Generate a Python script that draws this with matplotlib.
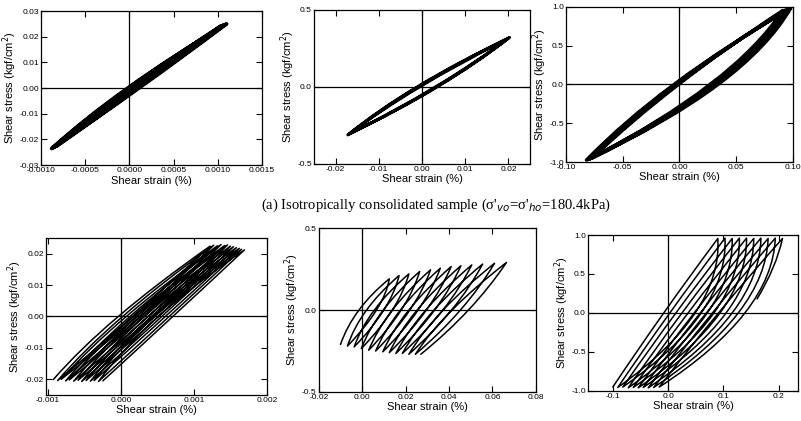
import matplotlib
matplotlib.use("Agg")
import matplotlib.pyplot as plt
from matplotlib.path import Path
from matplotlib.patches import PathPatch
from matplotlib.ticker import FormatStrFormatter

plt.rcParams['font.family'] = ['Liberation Sans', 'DejaVu Sans']
plt.rcParams['axes.unicode_minus'] = False

# ---- (a) isotropically consolidated, small amplitude (top left)
tl_low_x = [-0.00088, -0.00086, -0.00084, -0.00087, -0.00082]
tl_low_y = [-0.0236, -0.0232, -0.0228, -0.0234, -0.0226]
tl_up_x = [0.00110, 0.00106, 0.00103, 0.00108]
tl_up_y = [0.0250, 0.0245, 0.0241, 0.0247]
tl_load_x0 = [-0.00002, 0.0, 0.00002, -0.00001]
tl_unload_x0 = [0.00011, 0.00009, 0.00008, 0.00010]

# ---- top middle
tm_low_x = [-0.0172, -0.0169, -0.0166, -0.0170, -0.0164]
tm_low_y = [-0.312, -0.306, -0.300, -0.309, -0.298]
tm_up_x = [0.0203, 0.0200, 0.0196, 0.0199]
tm_up_y = [0.322, 0.317, 0.310, 0.315]
tm_load_x0 = [-0.0012, -0.0009, -0.0006, -0.0010]
tm_unload_x0 = [0.0035, 0.0033, 0.0031, 0.0034]

# ---- top right
tr_low_x = [-0.082, -0.080, -0.078, -0.081, -0.077, -0.079]
tr_low_y = [-0.975, -0.965, -0.955, -0.970, -0.950, -0.960]
tr_up_x = [0.098, 0.096, 0.093, 0.097, 0.091]
tr_up_y = [0.985, 0.975, 0.960, 0.980, 0.955]
tr_load_x0 = [-0.005, -0.003, -0.002, -0.004, -0.001]
tr_unload_x0 = [0.034, 0.032, 0.029, 0.031, 0.027]

# ---- bottom left (drifting loops)
bl_low_x = [-0.00093, -0.00087, -0.00082, -0.00076, -0.00071, -0.00065, -0.00059,
            -0.00054, -0.00048, -0.00042, -0.00037, -0.00031, -0.00025]
bl_low_y = [-0.0201, -0.0204, -0.0200, -0.0205, -0.0202, -0.0206, -0.0203,
            -0.0207, -0.0204, -0.0206, -0.0204, -0.0207, -0.0205]
bl_up_x = [0.00122, 0.00127, 0.00132, 0.00137, 0.00142, 0.00146,
           0.00150, 0.00154, 0.00158, 0.00162, 0.00165, 0.00169]
bl_up_y = [0.0224, 0.0227, 0.0225, 0.0229, 0.0226, 0.0228,
           0.0224, 0.0222, 0.0219, 0.0217, 0.0214, 0.0212]
bl_load_x0 = [-0.00004, 0.00002, 0.00007, 0.00012, 0.00017, 0.00022,
              0.00027, 0.00032, 0.00037, 0.00042, 0.00046, 0.00051]
bl_unload_x0 = [0.00016, 0.00021, 0.00026, 0.00031, 0.00037, 0.00042,
                0.00046, 0.00051, 0.00056, 0.00061, 0.00066, 0.00071]

# ---- bottom middle
bm_low_x = [-0.0100, -0.0068, -0.0037, -0.0004, 0.0030, 0.0062, 0.0095,
            0.0125, 0.0155, 0.0185, 0.0215, 0.0245, 0.0270]
bm_low_y = [-0.21, -0.22, -0.225, -0.235, -0.245, -0.25, -0.255,
            -0.26, -0.265, -0.265, -0.27, -0.27, -0.27]
bm_up_x = [0.0125, 0.0170, 0.0215, 0.0265, 0.0315, 0.0360,
           0.0410, 0.0455, 0.0505, 0.0555, 0.0610, 0.0665]
bm_up_y = [0.19, 0.21, 0.22, 0.235, 0.245, 0.255,
           0.265, 0.27, 0.275, 0.28, 0.285, 0.29]
bm_load_x0 = [-0.0015, 0.0020, 0.0056, 0.0097, 0.0139, 0.0176,
              0.0215, 0.0253, 0.0293, 0.0331, 0.0373, 0.0414]
bm_unload_x0 = [0.0066, 0.0100, 0.0139, 0.0180, 0.0220, 0.0258,
                0.0296, 0.0334, 0.0372, 0.0412, 0.0453, 0.0490]

# ---- bottom right
br_low_x = [-0.100, -0.091, -0.082, -0.072, -0.063, -0.054, -0.045, -0.036, -0.026, -0.016]
br_low_y = [-0.95, -0.955, -0.95, -0.96, -0.955, -0.96, -0.955, -0.96, -0.955, -0.95]
br_up_x = [0.090, 0.103, 0.116, 0.129, 0.142, 0.155, 0.168, 0.181, 0.194, 0.207]
br_up_y = [0.955, 0.96, 0.955, 0.96, 0.96, 0.955, 0.96, 0.955, 0.96, 0.955]
br_load_x0 = [-0.008, 0.003, 0.014, 0.025, 0.036, 0.047, 0.058, 0.069, 0.080, 0.091]
br_unload_x0 = [0.049, 0.060, 0.071, 0.083, 0.094, 0.105, 0.116, 0.127, 0.139]
br_tail_x = [0.190, 0.161]
br_tail_y = [0.58, 0.18]


def curve(verts, codes, a, m, b):
    # quadratic segment from a to b that passes through m
    ctrl = (2 * m[0] - (a[0] + b[0]) / 2, 2 * m[1] - (a[1] + b[1]) / 2)
    verts += [ctrl, b]
    codes += [Path.CURVE3, Path.CURVE3]


def trace(ax, low_x, low_y, up_x, up_y, load_x0, unload_x0, lw, tail=None):
    verts = [(low_x[0], low_y[0])]
    codes = [Path.MOVETO]
    for i in range(len(up_x)):
        curve(verts, codes, (low_x[i], low_y[i]), (load_x0[i], 0.0), (up_x[i], up_y[i]))
        if i < len(unload_x0):
            curve(verts, codes, (up_x[i], up_y[i]), (unload_x0[i], 0.0),
                  (low_x[i + 1], low_y[i + 1]))
    if tail is not None:
        curve(verts, codes, (up_x[-1], up_y[-1]), (tail[0][0], tail[1][0]),
              (tail[0][1], tail[1][1]))
    ax.add_patch(PathPatch(Path(verts, codes), fill=False, lw=lw, ec='black',
                           joinstyle='round', capstyle='round'))


def style(ax, xlim, ylim, xticks, yticks, xfmt, yfmt):
    ax.set_xlim(xlim)
    ax.set_ylim(ylim)
    ax.set_xticks(xticks)
    ax.set_yticks(yticks)
    ax.xaxis.set_major_formatter(FormatStrFormatter(xfmt))
    ax.yaxis.set_major_formatter(FormatStrFormatter(yfmt))
    ax.tick_params(direction='in', top=True, right=True, labelsize=6,
                   length=4, width=0.8, pad=1.5)
    ax.axhline(0, color='black', lw=0.9)
    ax.axvline(0, color='black', lw=0.9)
    ax.set_xlabel('Shear strain (%)', fontsize=8, labelpad=1)
    ax.set_ylabel('Shear stress (kgf/cm$^2$)', fontsize=8, labelpad=0.5)
    for s in ax.spines.values():
        s.set_linewidth(0.9)


fig = plt.figure(figsize=(8.01, 4.21), dpi=100)

ax1 = fig.add_axes([0.0512, 0.608, 0.2759, 0.3658])
trace(ax1, tl_low_x, tl_low_y, tl_up_x, tl_up_y, tl_load_x0, tl_unload_x0, 2.6)
style(ax1, (-0.0010, 0.0015), (-0.03, 0.03),
      [-0.0010, -0.0005, 0.0, 0.0005, 0.0010, 0.0015],
      [-0.03, -0.02, -0.01, 0.0, 0.01, 0.02, 0.03], '%.4f', '%.2f')

ax2 = fig.add_axes([0.392, 0.6105, 0.2697, 0.3658])
trace(ax2, tm_low_x, tm_low_y, tm_up_x, tm_up_y, tm_load_x0, tm_unload_x0, 2.0)
style(ax2, (-0.025, 0.025), (-0.5, 0.5),
      [-0.02, -0.01, 0.0, 0.01, 0.02], [-0.5, 0.0, 0.5], '%.2f', '%.1f')

ax3 = fig.add_axes([0.7066, 0.6152, 0.2834, 0.3682])
trace(ax3, tr_low_x, tr_low_y, tr_up_x, tr_up_y, tr_load_x0, tr_unload_x0, 2.4)
style(ax3, (-0.10, 0.10), (-1.0, 1.0),
      [-0.10, -0.05, 0.0, 0.05, 0.10], [-1.0, -0.5, 0.0, 0.5, 1.0], '%.2f', '%.1f')

ax4 = fig.add_axes([0.0574, 0.0618, 0.2759, 0.3729])
trace(ax4, bl_low_x, bl_low_y, bl_up_x, bl_up_y, bl_load_x0, bl_unload_x0, 1.1)
style(ax4, (-0.00103, 0.002), (-0.025, 0.025),
      [-0.001, 0.0, 0.001, 0.002], [-0.02, -0.01, 0.0, 0.01, 0.02], '%.3f', '%.2f')

ax5 = fig.add_axes([0.398, 0.0689, 0.2709, 0.3895])
trace(ax5, bm_low_x, bm_low_y, bm_up_x, bm_up_y, bm_load_x0, bm_unload_x0, 1.1)
style(ax5, (-0.02, 0.08), (-0.5, 0.5),
      [-0.02, 0.0, 0.02, 0.04, 0.06, 0.08], [-0.5, 0.0, 0.5], '%.2f', '%.1f')

ax6 = fig.add_axes([0.734, 0.0713, 0.2622, 0.3705])
trace(ax6, br_low_x, br_low_y, br_up_x, br_up_y, br_load_x0, br_unload_x0, 1.1,
      tail=(br_tail_x, br_tail_y))
style(ax6, (-0.145, 0.235), (-1.0, 1.0),
      [-0.1, 0.0, 0.1, 0.2], [-1.0, -0.5, 0.0, 0.5, 1.0], '%.1f', '%.1f')

fig.text(0.544, 0.513, "(a) Isotropically consolidated sample (σ'$_{\\it vo}$=σ'$_{\\it ho}$=180.4kPa)",
         ha='center', va='center', fontsize=10.5, family=['Liberation Serif', 'DejaVu Serif'])

fig.savefig('out.png', dpi=100)
